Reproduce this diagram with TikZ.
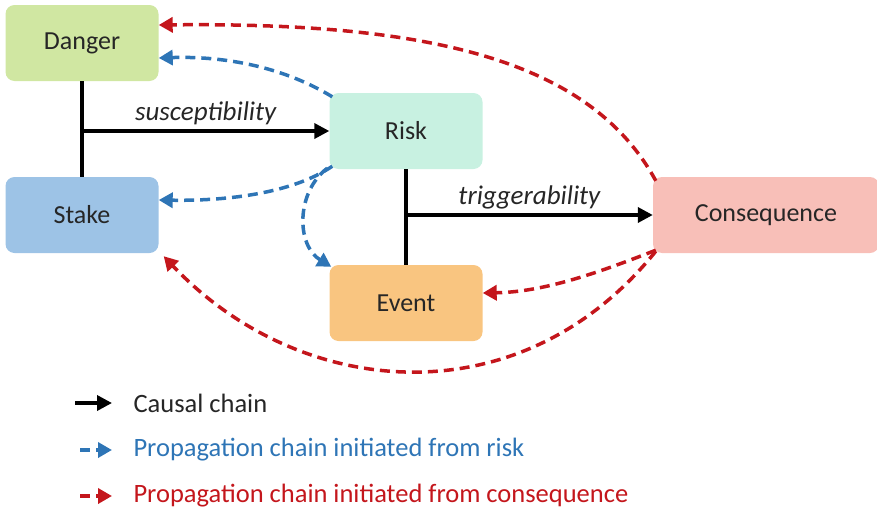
\documentclass[tikz,border=0pt]{standalone}
\usepackage{fontspec}
\setmainfont{Carlito}
\usetikzlibrary{arrows.meta,calc}
\definecolor{cDanger}{HTML}{D0E7A2}
\definecolor{cStake}{HTML}{9DC3E6}
\definecolor{cRisk}{HTML}{C8F1E1}
\definecolor{cEvent}{HTML}{F9C580}
\definecolor{cCons}{HTML}{F8BFB8}
\definecolor{cBlue}{HTML}{2E75B6}
\definecolor{cRed}{HTML}{C4161C}
\tikzset{
  box/.style={rectangle, rounded corners=9pt, draw=none, minimum width=153pt, minimum height=76pt, font=\fontsize{26}{30}\selectfont, text=black!85},
  causal/.style={line width=3.5pt, black, -{Triangle[length=15pt,width=15pt]}},
  plain/.style={line width=3.5pt, black},
  bluechain/.style={line width=3.5pt, cBlue, dash pattern=on 10pt off 6pt, -{Triangle[length=14pt,width=15pt]}},
  redchain/.style={line width=3.5pt, cRed, dash pattern=on 10pt off 6pt, -{Triangle[length=14pt,width=15pt]}},
  lbl/.style={font=\fontsize{27}{31}\selectfont\itshape, text=black!85},
  legtxt/.style={anchor=west, font=\fontsize{26.5}{31}\selectfont}
}
\begin{document}
\begin{tikzpicture}[x=1pt,y=-1pt]
\useasboundingbox (0,0) rectangle (877,514);
\node[box, fill=cDanger] (danger) at (82,43) {Danger};
\node[box, fill=cStake] (stake) at (82,215) {Stake};
\node[box, fill=cRisk] (risk) at (406,131) {Risk};
\node[box, fill=cEvent] (event) at (406,303) {Event};
\node[box, fill=cCons, minimum width=226pt] (cons) at (766,215) {Consequence};

% causal chain
\draw[plain] (danger.south) -- (stake.north);
\draw[causal] (danger.south |- risk.west) -- node[lbl, above=1pt] {susceptibility} (risk.west);
\draw[plain] (risk.south) -- (event.north);
\draw[causal] (risk.south |- cons.west) -- node[lbl, above=1pt] {triggerability} (cons.west);

% propagation from risk
\draw[bluechain] ([xshift=3pt,yshift=-4pt]risk.north west) .. controls (280,65) and (220,56) .. ([yshift=-15pt]danger.east);
\draw[bluechain] ([xshift=3pt,yshift=3pt]risk.south west) .. controls (290,195) and (220,201) .. ([yshift=15pt]stake.east);
\draw[bluechain] ([xshift=-2pt,yshift=1pt]risk.south west) .. controls (296,192) and (296,245) .. ([xshift=2pt,yshift=-2pt]event.north west);

% propagation from consequence
\draw[redchain] ([xshift=3pt,yshift=-4pt]cons.north west) .. controls (590,60) and (430,22) .. ([yshift=18pt]danger.east);
\draw[redchain] ([xshift=3pt,yshift=3pt]cons.south west) .. controls (600,272) and (545,292) .. ([yshift=10pt]event.east);
\draw[redchain] ([xshift=3pt,yshift=2pt]cons.south west) .. controls (520,420) and (300,400) .. ([xshift=5pt,yshift=-3pt]stake.south east);

% legend
\node[legtxt, text=black!85] (l1) at (130,403) {Causal chain};
\node[legtxt, text=cBlue] (l2) at (130,450) {Propagation chain initiated from risk};
\node[legtxt, text=cRed] (l3) at (130,496) {Propagation chain initiated from consequence};
\coordinate (a1) at (75,403); \coordinate (b1) at (112,403);
\coordinate (a2) at (80,450); \coordinate (b2) at (112,450);
\coordinate (a3) at (80,496); \coordinate (b3) at (112,496);
\draw[causal] (a1) -- (b1);
\draw[bluechain] (a2) -- (b2);
\draw[redchain] (a3) -- (b3);
\end{tikzpicture}
\end{document}
